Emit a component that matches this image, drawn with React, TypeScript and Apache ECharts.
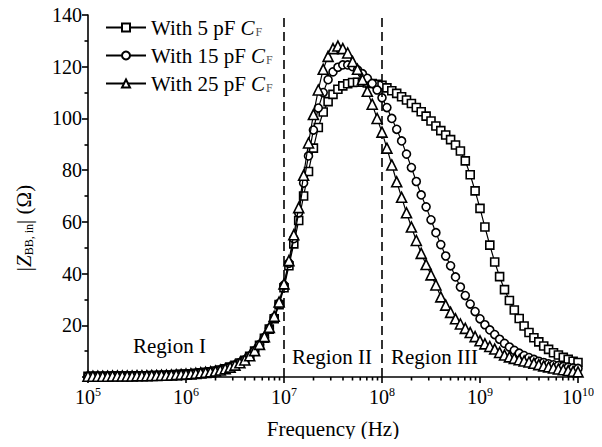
import React, { useEffect, useRef } from "react";
import * as echarts from "echarts";

// log10 of frequency (Hz) for each sweep point
const FREQ_EXP = [
  5.0, 5.05, 5.1, 5.15, 5.2, 5.25, 5.3, 5.35, 5.4, 5.45,
  5.5, 5.55, 5.6, 5.65, 5.7, 5.75, 5.8, 5.85, 5.9, 5.95,
  6.0, 6.05, 6.1, 6.15, 6.2, 6.25, 6.3, 6.35, 6.4, 6.45,
  6.5, 6.55, 6.6, 6.65, 6.7, 6.75, 6.8, 6.85, 6.9, 6.95,
  7.0, 7.05, 7.1, 7.15, 7.2, 7.25, 7.3, 7.35, 7.4, 7.45,
  7.5, 7.55, 7.6, 7.65, 7.7, 7.75, 7.8, 7.85, 7.9, 7.95,
  8.0, 8.05, 8.1, 8.15, 8.2, 8.25, 8.3, 8.35, 8.4, 8.45,
  8.5, 8.55, 8.6, 8.65, 8.7, 8.75, 8.8, 8.85, 8.9, 8.95,
  9.0, 9.05, 9.1, 9.15, 9.2, 9.25, 9.3, 9.35, 9.4, 9.45,
  9.5, 9.55, 9.6, 9.65, 9.7, 9.75, 9.8, 9.85, 9.9, 9.95,
  10.0,
];

const Z_5PF = [
  0.3, 0.3, 0.3, 0.3, 0.3, 0.4, 0.4, 0.4, 0.4, 0.4,
  0.5, 0.5, 0.5, 0.6, 0.6, 0.7, 0.7, 0.8, 0.9, 1.0,
  1.1, 1.2, 1.4, 1.6, 1.8, 2.0, 2.3, 2.7, 3.2, 3.8,
  4.5, 5.4, 6.5, 8.0, 10.0, 12.3, 15.0, 18.5, 22.5, 28.0,
  34.5, 43.0, 51.5, 60.5, 70.0, 79.5, 88.5, 96.5, 102.5, 106.5,
  109.3, 111.3, 112.6, 113.4, 113.9, 114.0, 114.0, 113.7, 113.5, 113.2,
  112.8, 111.8, 110.7, 109.7, 108.4, 107.1, 105.8, 104.2, 102.6, 100.9,
  99.0, 97.1, 95.3, 93.6, 91.8, 89.7, 87.4, 83.6, 78.2, 72.0,
  65.2, 58.0, 51.0, 44.5, 38.8, 33.8, 29.6, 25.9, 22.6, 19.7,
  17.2, 15.2, 13.6, 12.0, 10.7, 9.4, 8.5, 7.6, 6.8, 6.1,
  5.6,
];

const Z_15PF = [
  0.3, 0.3, 0.3, 0.3, 0.3, 0.4, 0.4, 0.4, 0.4, 0.4,
  0.5, 0.5, 0.5, 0.6, 0.6, 0.7, 0.7, 0.8, 0.9, 1.0,
  1.1, 1.2, 1.4, 1.6, 1.8, 2.0, 2.3, 2.7, 3.2, 3.8,
  4.6, 5.5, 6.6, 8.1, 10.1, 12.5, 15.3, 18.8, 23.0, 28.5,
  35.5, 44.0, 53.5, 63.5, 75.0, 85.5, 95.5, 104.0, 110.0, 115.0,
  118.0, 119.8, 120.7, 120.7, 120.0, 118.8, 117.3, 115.5, 113.5, 111.0,
  108.0, 104.2, 100.0, 95.8, 91.3, 86.2, 81.0, 75.6, 70.4, 65.8,
  60.8, 55.8, 51.2, 46.8, 43.0, 38.7, 34.8, 31.5, 28.2, 25.3,
  22.5, 20.2, 18.2, 16.4, 14.6, 13.0, 11.6, 10.3, 9.2, 8.3,
  7.5, 6.8, 6.1, 5.6, 5.1, 4.7, 4.4, 4.1, 3.8, 3.5,
  3.3,
];

const Z_25PF = [
  0.3, 0.3, 0.3, 0.3, 0.3, 0.4, 0.4, 0.4, 0.4, 0.4,
  0.5, 0.5, 0.5, 0.6, 0.6, 0.7, 0.7, 0.8, 0.9, 1.0,
  1.1, 1.2, 1.4, 1.6, 1.8, 2.0, 2.3, 2.7, 3.2, 3.8,
  4.6, 5.5, 6.6, 8.2, 10.2, 12.6, 15.6, 19.2, 23.5, 29.0,
  36.0, 45.0, 55.0, 65.5, 78.0, 90.5, 101.5, 111.0, 119.0, 124.0,
  127.0, 128.0, 127.0, 125.3, 122.0, 119.0, 115.0, 110.5, 105.5, 100.0,
  94.7, 88.5, 82.0, 75.5, 69.5, 63.5, 58.0, 52.8, 47.8, 43.5,
  39.5, 35.6, 31.0, 27.8, 25.0, 22.5, 20.5, 18.8, 17.2, 15.6,
  14.0, 12.8, 11.8, 10.8, 9.5, 8.5, 7.8, 7.2, 6.7, 6.2,
  5.8, 5.3, 4.8, 4.3, 3.9, 3.5, 3.1, 2.8, 2.5, 2.2,
  2.0,
];

const SERIES_NAMES = ["With 5 pF", "With 15 pF", "With 25 pF"];
const SERIES_SYMBOLS = ["rect", "circle", "triangle"];
const REGION_LINES = [1e7, 1e8];
const REGION_LABELS = ["Region I", "Region II", "Region III"];
const MINOR_MULT = [2, 3, 4, 5, 6, 7, 8, 9];
const MINOR_DECADES = [1e5, 1e6, 1e7, 1e8, 1e9];
const Y_TICKS_MAX = 140;

const FONT = "'Liberation Serif', 'Times New Roman', serif";

export default function App() {
  const ref = useRef<HTMLDivElement>(null);
  useEffect(() => {
    if (!ref.current) return;
    const chart = echarts.init(ref.current, undefined, { renderer: "svg" });
    const freqs = FREQ_EXP.map((e) => Math.pow(10, e));
    const allY = [Z_5PF, Z_15PF, Z_25PF];
    const minorTicks: number[][] = [];
    MINOR_DECADES.forEach((d) => MINOR_MULT.forEach((m) => minorTicks.push([m * d, 0])));

    const lineSeries = allY.map((ys, k) => ({
      type: "line",
      name: SERIES_NAMES[k],
      data: ys.map((y, i) => [freqs[i], y]),
      symbol: SERIES_SYMBOLS[k],
      symbolSize: k === 2 ? 10 : 8,
      showAllSymbol: true,
      lineStyle: { color: "#000", width: 1.2 },
      itemStyle: { color: "#fff", borderColor: "#000", borderWidth: 1.6 },
      emphasis: { disabled: true },
      z: 3 + k,
      markLine:
        k === 0
          ? {
              silent: true,
              symbol: "none",
              label: { show: false },
              lineStyle: { color: "#000", type: [9, 5], width: 1.6 },
              data: REGION_LINES.map((x) => [
                { coord: [x, 0] },
                { coord: [x, Y_TICKS_MAX] },
              ]),
            }
          : undefined,
    }));

    const legendRich = {
      t: { fontFamily: FONT, fontSize: 21, color: "#000" },
      c: { fontFamily: FONT, fontSize: 21, fontStyle: "italic", color: "#000" },
      f: { fontFamily: FONT, fontSize: 12, color: "#555", verticalAlign: "bottom", padding: [8, 0, 0, 1] },
    };

    const yTitleRich = {
      n: { fontFamily: FONT, fontSize: 21, fill: "#000", color: "#000" },
      z: { fontFamily: FONT, fontSize: 21, fontStyle: "italic", fill: "#000", color: "#000" },
      s: { fontFamily: FONT, fontSize: 12, fill: "#000", color: "#000", verticalAlign: "bottom", padding: [8, 0, 0, 0] },
    };

    chart.setOption({
      animation: false,
      grid: { left: 88, right: 24, top: 15, bottom: 70, containLabel: false },
      legend: {
        orient: "vertical",
        left: 100,
        top: 12,
        itemWidth: 40,
        itemHeight: 10,
        itemGap: 7,
        data: SERIES_NAMES,
        formatter: (name: string) => `{t|${name} }{c|C}{f|F}`,
        textStyle: { rich: legendRich, fontFamily: FONT, fontSize: 21 },
      },
      xAxis: {
        type: "log",
        logBase: 10,
        min: 1e5,
        max: 1e10,
        splitNumber: 5,
        name: "Frequency (Hz)",
        nameLocation: "middle",
        nameGap: 41,
        nameTextStyle: { fontFamily: FONT, fontSize: 21, color: "#000" },
        axisLine: { lineStyle: { color: "#000", width: 1.6 } },
        axisTick: { length: 6, lineStyle: { color: "#000", width: 1.6 } },
        splitLine: { show: false },
        axisLabel: {
          margin: 9,
          color: "#000",
          formatter: (v: number) => `{b|10}{s|${Math.round(Math.log10(v))}}`,
          rich: {
            b: { fontFamily: FONT, fontSize: 20, color: "#000", lineHeight: 22 },
            s: { fontFamily: FONT, fontSize: 12, color: "#000", verticalAlign: "top", lineHeight: 12 },
          },
        },
      },
      yAxis: {
        type: "value",
        min: 0,
        max: Y_TICKS_MAX,
        interval: 20,
        axisLine: { show: true, lineStyle: { color: "#000", width: 1.6 } },
        axisTick: { show: true, length: 6, lineStyle: { color: "#000", width: 1.6 } },
        minorTick: { show: true, splitNumber: 2, length: 3.5, lineStyle: { color: "#000", width: 1.6 } },
        splitLine: { show: false },
        axisLabel: {
          margin: 6,
          fontFamily: FONT,
          fontSize: 20,
          color: "#000",
          formatter: (v: number) => (v === 0 ? "" : String(v)),
        },
      },
      series: [
        ...lineSeries,
        {
          type: "custom",
          silent: true,
          clip: false,
          data: minorTicks,
          encode: { x: 0, y: 1 },
          renderItem: (params: any, api: any) => {
            const p = api.coord([api.value(0), 0]);
            return {
              type: "line",
              shape: { x1: p[0], y1: p[1], x2: p[0], y2: p[1] + 3.5 },
              style: { stroke: "#000", lineWidth: 1.6 },
            };
          },
          z: 1,
        },
      ],
      graphic: [
        { type: "text", left: 133, top: 335, style: { text: REGION_LABELS[0], font: `21px ${FONT}`, fill: "#000" } },
        { type: "text", left: 292, top: 346, style: { text: REGION_LABELS[1], font: `21px ${FONT}`, fill: "#000" } },
        { type: "text", left: 391, top: 346, style: { text: REGION_LABELS[2], font: `21px ${FONT}`, fill: "#000" } },
        {
          type: "text",
          x: 24,
          y: 228,
          rotation: Math.PI / 2,
          style: {
            text: "{n||}{z|Z}{s|BB, in}{n|| (Ω)}",
            rich: yTitleRich,
            align: "center",
            verticalAlign: "middle",
            fill: "#000",
            font: `21px ${FONT}`,
          },
        },
      ],
    });
    return () => chart.dispose();
  }, []);
  return <div ref={ref} style={{ width: 602, height: 447, margin: -8 }} />;
}
